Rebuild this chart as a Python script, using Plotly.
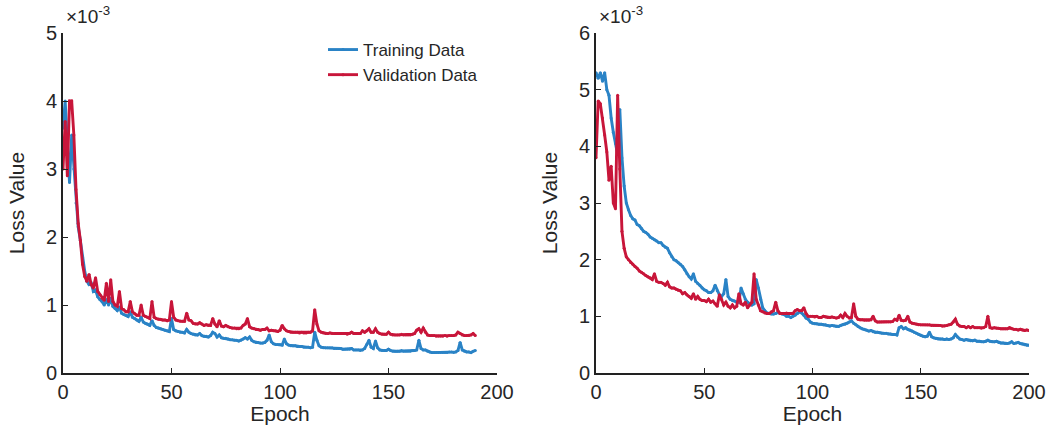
import plotly.graph_objects as go

# Loss values in units of 1e-3
left_train = [
    3.6, 4.0, 3.4, 2.8, 3.5, 3.0, 2.5, 2.15, 1.95, 1.7,
    1.5, 1.35, 1.3, 1.32, 1.2, 1.22, 1.12, 1.08, 1.05, 1.0,
    1.08, 1.0, 1.1, 0.98, 0.95, 0.92, 0.97, 0.88, 0.86, 0.85,
    0.83, 0.9, 0.82, 0.8, 0.78, 0.76, 0.82, 0.75, 0.73, 0.72,
    0.7, 0.77, 0.7, 0.67, 0.66, 0.65, 0.64, 0.63, 0.62, 0.61,
    0.8, 0.64, 0.62, 0.61, 0.6, 0.6, 0.59, 0.64, 0.6, 0.58,
    0.57, 0.56, 0.56, 0.58, 0.55, 0.54, 0.54, 0.53, 0.55, 0.6,
    0.58, 0.53, 0.56, 0.52, 0.51, 0.51, 0.5, 0.49, 0.49, 0.48,
    0.48, 0.47, 0.48, 0.5, 0.52, 0.5, 0.53, 0.48, 0.46, 0.45,
    0.45, 0.44, 0.44, 0.45, 0.48, 0.56, 0.46, 0.43, 0.42, 0.42,
    0.42, 0.41, 0.5, 0.43, 0.41, 0.4, 0.4, 0.4, 0.39, 0.39,
    0.39, 0.38, 0.38, 0.38, 0.37, 0.38, 0.6, 0.48, 0.4, 0.38,
    0.37, 0.37, 0.37, 0.37, 0.37, 0.36, 0.36, 0.36, 0.36, 0.35,
    0.35, 0.35, 0.35, 0.36, 0.34, 0.34, 0.34, 0.33, 0.34, 0.36,
    0.42, 0.48, 0.38, 0.36, 0.47, 0.37, 0.34, 0.33, 0.33, 0.33,
    0.35, 0.33, 0.32, 0.32, 0.32, 0.32, 0.33, 0.32, 0.32, 0.32,
    0.32, 0.33, 0.33, 0.34, 0.48, 0.36, 0.34, 0.34, 0.32, 0.31,
    0.3, 0.3, 0.3, 0.3, 0.3, 0.3, 0.3, 0.3, 0.31, 0.31,
    0.3, 0.31, 0.33, 0.45, 0.34, 0.32, 0.31, 0.31, 0.3, 0.32,
    0.33,
]
left_val = [
    3.0, 3.7, 2.9, 4.0, 4.0, 3.5, 2.7, 2.2, 1.95, 1.6,
    1.42, 1.35, 1.45, 1.3, 1.25, 1.4, 1.2, 1.15, 1.1, 1.07,
    1.32, 1.05, 1.37, 1.05, 1.0, 0.98, 1.2, 0.95, 0.93, 0.9,
    0.9, 1.05, 0.9, 0.87, 0.85, 0.85, 1.0, 0.85, 0.83, 0.82,
    0.8, 1.05, 0.82, 0.8, 0.79, 0.79, 0.78, 0.78, 0.77, 0.78,
    1.05, 0.82, 0.78, 0.77, 0.76, 0.76, 0.76, 0.88, 0.78, 0.77,
    0.73, 0.72, 0.72, 0.74, 0.72, 0.7, 0.71, 0.7, 0.7, 0.8,
    0.72, 0.68, 0.77, 0.69, 0.68, 0.7, 0.68, 0.67, 0.66, 0.66,
    0.65, 0.65, 0.66, 0.7, 0.72, 0.8, 0.68, 0.66, 0.65, 0.64,
    0.64, 0.63, 0.64, 0.64, 0.66, 0.62, 0.63, 0.62, 0.62, 0.61,
    0.63, 0.7, 0.65, 0.62, 0.61, 0.6, 0.6, 0.6, 0.6, 0.59,
    0.6, 0.59, 0.59, 0.6, 0.6, 0.62, 0.93, 0.72, 0.62, 0.6,
    0.59, 0.58, 0.58, 0.59, 0.58, 0.58, 0.58, 0.58, 0.58, 0.58,
    0.58, 0.57, 0.58, 0.6, 0.58, 0.58, 0.58, 0.58, 0.62, 0.6,
    0.62, 0.65, 0.6, 0.6, 0.65, 0.6, 0.58, 0.57, 0.57, 0.57,
    0.6, 0.57, 0.56, 0.56, 0.56, 0.56, 0.57, 0.56, 0.56, 0.56,
    0.56, 0.57, 0.58, 0.63, 0.65, 0.6, 0.66, 0.6, 0.56, 0.55,
    0.55, 0.55, 0.54, 0.54, 0.54, 0.54, 0.55, 0.54, 0.55, 0.55,
    0.55, 0.56, 0.6, 0.58, 0.56, 0.55, 0.55, 0.55, 0.56, 0.58,
    0.55,
]
right_train = [
    5.3, 5.2, 5.3, 5.15, 5.3, 5.0, 4.9, 4.5, 4.25, 4.05,
    3.85, 4.65, 3.8, 3.3, 3.0, 2.88, 2.78, 2.72, 2.7, 2.62,
    2.6, 2.55, 2.5, 2.48, 2.45, 2.4, 2.38, 2.35, 2.33, 2.3,
    2.3, 2.25, 2.22, 2.2, 2.12, 2.05, 2.0, 1.98, 1.95, 1.92,
    1.88, 1.82, 1.75, 1.7, 1.66, 1.75, 1.62, 1.58, 1.55, 1.5,
    1.47, 1.45, 1.42, 1.42, 1.45, 1.55, 1.45, 1.38, 1.35, 1.4,
    1.65, 1.35, 1.3, 1.28, 1.27, 1.25, 1.25, 1.5, 1.4, 1.3,
    1.25, 1.22, 1.2, 1.22, 1.65, 1.5, 1.3, 1.15, 1.1, 1.06,
    1.05, 1.04, 1.04, 1.05, 1.07, 1.05, 1.04, 1.03, 1.0, 1.0,
    0.98, 1.0, 1.02, 1.05, 1.08, 1.06, 1.02, 0.97, 0.95, 0.9,
    0.88, 0.87, 0.87, 0.86, 0.86, 0.85, 0.85, 0.84, 0.83, 0.84,
    0.83, 0.82, 0.82, 0.84, 0.85, 0.86, 0.88, 0.9, 0.92, 0.88,
    0.85, 0.82, 0.8, 0.78, 0.77, 0.76, 0.74, 0.75, 0.73, 0.72,
    0.72, 0.71, 0.7, 0.7, 0.7, 0.69, 0.69, 0.68, 0.68, 0.67,
    0.8, 0.82, 0.78, 0.8, 0.77, 0.76, 0.74, 0.72, 0.7, 0.68,
    0.66, 0.65, 0.64, 0.65, 0.72, 0.64, 0.62, 0.61, 0.6, 0.6,
    0.6, 0.59, 0.6, 0.59, 0.6, 0.62, 0.68, 0.63, 0.6, 0.59,
    0.58, 0.59, 0.58, 0.57, 0.57, 0.58, 0.56, 0.56, 0.55, 0.55,
    0.56, 0.58, 0.56, 0.55, 0.55, 0.56, 0.54, 0.53, 0.53, 0.52,
    0.52, 0.53, 0.55, 0.52, 0.53, 0.54, 0.52, 0.51, 0.5, 0.49,
    0.49,
]
right_val = [
    3.8, 4.8, 4.75, 4.5, 4.2, 3.9, 3.4, 3.65, 3.0, 2.9,
    4.9, 3.6, 2.5, 2.2, 2.05, 2.0, 1.95, 1.92, 1.88, 1.85,
    1.8, 1.78, 1.75, 1.72, 1.7, 1.68, 1.65, 1.75, 1.62, 1.6,
    1.6, 1.58, 1.55, 1.6, 1.52, 1.5, 1.5, 1.48, 1.46, 1.45,
    1.4, 1.42, 1.38, 1.35, 1.32, 1.4, 1.3, 1.35, 1.3, 1.28,
    1.28, 1.26, 1.3, 1.25, 1.27, 1.22, 1.18, 1.38, 1.3, 1.2,
    1.25, 1.18, 1.15, 1.2, 1.15, 1.18, 1.4, 1.22, 1.2, 1.25,
    1.15, 1.2, 1.25, 1.75, 1.3, 1.2, 1.1, 1.08, 1.06, 1.05,
    1.05, 1.08, 1.1, 1.25, 1.1, 1.05, 1.05, 1.05, 1.06, 1.05,
    1.05, 1.05, 1.1, 1.12, 1.1, 1.1, 1.15, 1.05, 1.0, 1.0,
    1.0, 0.99, 1.0, 0.98, 0.98, 1.0, 0.99, 0.98, 0.98, 0.99,
    0.98, 0.97, 0.98, 1.02, 0.98, 1.05, 1.0, 0.97, 0.98, 1.22,
    1.0, 0.95, 0.94, 0.94, 0.93, 0.93, 0.93, 0.94, 1.0, 0.92,
    0.9, 0.9, 0.9, 0.9, 0.9, 0.9, 0.9, 0.91, 0.95, 0.93,
    1.02, 0.93, 0.92, 0.93, 1.0, 0.9, 0.88, 0.87, 0.86, 0.85,
    0.85, 0.85, 0.85, 0.85, 0.85, 0.84, 0.84, 0.84, 0.84, 0.84,
    0.83, 0.83, 0.84, 0.85, 0.86, 0.9, 0.95, 0.86, 0.83, 0.82,
    0.82, 0.8, 0.82, 0.8, 0.82, 0.8, 0.8, 0.8, 0.79, 0.8,
    0.82, 1.0, 0.8, 0.79, 0.8, 0.79, 0.79, 0.78, 0.78, 0.78,
    0.78, 0.8, 0.78, 0.77, 0.77, 0.76, 0.77, 0.76, 0.75, 0.76,
    0.75,
]
left_epochs = list(range(len(left_train)))
right_epochs = list(range(len(right_train)))

x_ticks = [0, 50, 100, 150, 200]
left_y_ticks = [0, 1, 2, 3, 4, 5]
right_y_ticks = [0, 1, 2, 3, 4, 5, 6]

BLUE = "#2a83c6"
RED = "#c8163a"
FONT = "Liberation Sans, Arial, sans-serif"
TXT = "#262626"
W, H = 1047, 425

fig = go.Figure()

def add(x, y, name, color, xa, ya, show):
    fig.add_trace(go.Scatter(
        x=x, y=y, name=name, mode="lines+markers",
        line=dict(color=color, width=2.9),
        marker=dict(size=3, color=color),
        xaxis=xa, yaxis=ya, showlegend=show,
    ))

add(left_epochs, left_train, "Training Data", BLUE, "x", "y", True)
add(left_epochs, left_val, "Validation Data", RED, "x", "y", True)
add(right_epochs, right_train, "Training Data", BLUE, "x2", "y2", False)
add(right_epochs, right_val, "Validation Data", RED, "x2", "y2", False)

y0, y1 = (H - 373) / H, (H - 33) / H

axis_common = dict(
    showgrid=False, zeroline=False, showline=True, linecolor="#222222",
    linewidth=1.6, ticks="inside", ticklen=5, tickwidth=1.3, tickcolor="#222222",
    tickfont=dict(family=FONT, size=20, color=TXT), mirror=False, automargin=False,
)
title_font = dict(size=21, family=FONT, color=TXT)

fig.update_layout(
    width=W, height=H,
    margin=dict(l=0, r=0, t=0, b=0),
    paper_bgcolor="white", plot_bgcolor="white",
    font=dict(family=FONT, color=TXT),
    xaxis=dict(domain=[63 / W, 497 / W], range=[0, 200], tickvals=x_ticks,
               anchor="y", title=dict(text="Epoch", font=title_font, standoff=0),
               **axis_common),
    yaxis=dict(domain=[y0, y1], range=[0, 5], tickvals=left_y_ticks,
               anchor="x", title=dict(text="Loss Value", font=title_font, standoff=16),
               **axis_common),
    xaxis2=dict(domain=[596 / W, 1029 / W], range=[0, 200], tickvals=x_ticks,
                anchor="y2", title=dict(text="Epoch", font=title_font, standoff=0),
                **axis_common),
    yaxis2=dict(domain=[y0, y1], range=[0, 6], tickvals=right_y_ticks,
                anchor="x2", title=dict(text="Loss Value", font=title_font, standoff=16),
                **axis_common),
    legend=dict(x=323 / W, y=1 - 32 / H, xanchor="left", yanchor="top",
                bgcolor="rgba(0,0,0,0)", font=dict(family=FONT, size=17, color=TXT),
                itemwidth=30, tracegroupgap=0),
    annotations=[
        dict(text="×10<sup>-3</sup>", x=64 / W, y=1 - 1 / H, xref="paper", yref="paper",
             xanchor="left", yanchor="top", showarrow=False,
             font=dict(family=FONT, size=19, color=TXT)),
        dict(text="×10<sup>-3</sup>", x=597 / W, y=1 - 1 / H, xref="paper", yref="paper",
             xanchor="left", yanchor="top", showarrow=False,
             font=dict(family=FONT, size=19, color=TXT)),
    ],
)

fig.write_html("out.html", config={"displayModeBar": False},
               post_script="document.body.style.margin='0';")
